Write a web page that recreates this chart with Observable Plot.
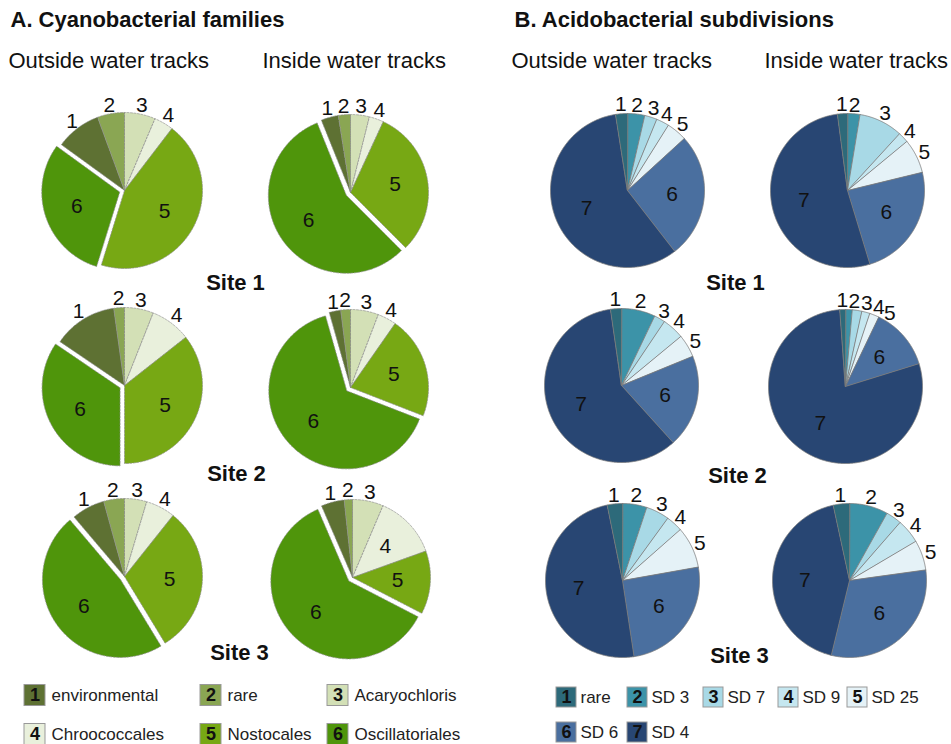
<!DOCTYPE html>
<html><head><meta charset="utf-8">
<script src="https://cdn.jsdelivr.net/npm/d3@7"></script>
<script src="https://cdn.jsdelivr.net/npm/@observablehq/plot@0.6"></script>
<style>body{margin:0;background:#fff;} svg{display:block}</style>
</head><body><div id="chart"></div>
<script>
// ---------- DATA ----------
const cyanoCodes = [1, 2, 3, 4, 5, 6];
const cyanoNames = ["environmental", "rare", "Acaryochloris", "Chroococcales", "Nostocales", "Oscillatoriales"];
const cyanoColors = ["#5e7133", "#8aa653", "#d3e0b6", "#e9f0dc", "#77a814", "#4f950b"];
const cyanoOrder = [3, 4, 5, 6, 1, 2]; // clockwise from 12 o'clock
// percentages, indexed by code 1..6
const cyanoOutsideSite1 = [9.4, 5.6, 6.4, 4.0, 44.4, 30.2];
const cyanoInsideSite1  = [3.6, 2.5, 3.9, 3.0, 30.6, 56.4];
const cyanoOutsideSite2 = [13.3, 2.2, 6.0, 8.4, 35.6, 34.5];
const cyanoInsideSite2  = [2.4, 2.0, 5.8, 3.9, 21.2, 64.7];
const cyanoOutsideSite3 = [6.9, 4.3, 4.6, 6.1, 30.6, 47.5];
const cyanoInsideSite3  = [4.8, 1.7, 6.4, 13.1, 13.1, 60.9];

const acidoCodes = [1, 2, 3, 4, 5, 6, 7];
const acidoNames = ["rare", "SD 3", "SD 7", "SD 9", "SD 25", "SD 6", "SD 4"];
const acidoColors = ["#2d6a7a", "#3c93a8", "#a8d9e6", "#c5e7f0", "#e5f2f7", "#4a6f9f", "#284673"];
const acidoOrder = [2, 3, 4, 5, 6, 7, 1]; // clockwise from 12 o'clock
const acidoOutsideSite1 = [2.5, 3.6, 2.6, 2.7, 4.3, 26.3, 58.0];
const acidoInsideSite1  = [2.1, 2.6, 9.2, 2.2, 7.2, 24.1, 52.6];
const acidoOutsideSite2 = [2.3, 7.1, 2.3, 4.6, 4.8, 19.5, 59.4];
const acidoInsideSite2  = [1.2, 1.4, 2.0, 1.7, 2.0, 13.1, 78.6];
const acidoOutsideSite3 = [3.2, 5.1, 4.9, 3.5, 8.7, 25.4, 49.2];
const acidoInsideSite3  = [3.4, 8.1, 3.3, 5.1, 6.3, 31.0, 42.8];

const sites = ["Site 1", "Site 2", "Site 3"];
const columnTitles = ["Outside water tracks", "Inside water tracks"];
const panelTitles = ["A. Cyanobacterial families", "B. Acidobacterial subdivisions"];

// ---------- LAYOUT ----------
const W = 951, H = 744;
const FONT = "Liberation Sans, Arial, Helvetica, sans-serif";
const pies = [
  {panel: "cyano", values: cyanoOutsideSite1, cx: 124, cy: 190, inside: [5, 6]},
  {panel: "cyano", values: cyanoInsideSite1,  cx: 350, cy: 192, inside: [5, 6]},
  {panel: "cyano", values: cyanoOutsideSite2, cx: 124, cy: 385, inside: [5, 6]},
  {panel: "cyano", values: cyanoInsideSite2,  cx: 350, cy: 387, inside: [5, 6]},
  {panel: "cyano", values: cyanoOutsideSite3, cx: 124, cy: 576, inside: [5, 6]},
  {panel: "cyano", values: cyanoInsideSite3,  cx: 352, cy: 577, inside: [4, 5, 6]},
  {panel: "acido", values: acidoOutsideSite1, cx: 627, cy: 190, inside: [6, 7]},
  {panel: "acido", values: acidoInsideSite1,  cx: 847, cy: 190, inside: [6, 7]},
  {panel: "acido", values: acidoOutsideSite2, cx: 621, cy: 385, inside: [6, 7]},
  {panel: "acido", values: acidoInsideSite2,  cx: 845, cy: 386, inside: [6, 7]},
  {panel: "acido", values: acidoOutsideSite3, cx: 622, cy: 580, inside: [6, 7]},
  {panel: "acido", values: acidoInsideSite3,  cx: 849, cy: 580, inside: [6, 7]}
];

const slicePts = [], labels = [];
pies.forEach((p, pi) => {
  const cy = p.panel === "cyano";
  const order = cy ? cyanoOrder : acidoOrder;
  const colors = cy ? cyanoColors : acidoColors;
  const r = cy ? 78 : 77;
  const explode = cy ? 6 : null;
  const arcs = d3.pie().sort(null).value(c => p.values[c - 1])(order);
  const outside = [];
  arcs.forEach(a => {
    const code = a.data;
    const mid = (a.startAngle + a.endAngle) / 2;
    const off = code === explode ? 5 : 0;
    const ox = p.cx + off * Math.sin(mid), oy = p.cy - off * Math.cos(mid);
    const id = pi + "-" + code;
    const color = colors[code - 1];
    slicePts.push({id, panel: p.panel, color, x: ox, y: oy});
    const n = Math.max(2, Math.ceil((a.endAngle - a.startAngle) / 0.01));
    for (let i = 0; i <= n; i++) {
      const t = a.startAngle + (a.endAngle - a.startAngle) * i / n;
      slicePts.push({id, panel: p.panel, color, x: ox + r * Math.sin(t), y: oy - r * Math.cos(t)});
    }
    if (p.inside.includes(code)) {
      const lr = 0.58 * r;
      labels.push({text: String(code), x: ox + lr * Math.sin(mid), y: oy - lr * Math.cos(mid)});
    } else {
      let ang = mid > Math.PI ? mid - 2 * Math.PI : mid;
      outside.push({code, ang, ox, oy, lr: r + 9});
    }
  });
  // keep neighbouring outside labels from overlapping
  outside.sort((a, b) => a.ang - b.ang);
  const minD = 12;
  outside.forEach((L, i) => {
    L.x = L.ox + L.lr * Math.sin(L.ang);
    L.y = L.oy - L.lr * Math.cos(L.ang);
    if (i > 0) {
      const P = outside[i - 1];
      while (Math.hypot(L.x - P.x, L.y - P.y) < minD) {
        L.ang += 0.01;
        L.x = L.ox + L.lr * Math.sin(L.ang);
        L.y = L.oy - L.lr * Math.cos(L.ang);
      }
    }
    labels.push({text: String(L.code), x: L.x, y: L.y});
  });
});

// header texts
const headers = [
  {text: panelTitles[0], x: 10, y: 19, bold: true},
  {text: panelTitles[1], x: 514, y: 19, bold: true},
  {text: columnTitles[0], x: 8, y: 60},
  {text: columnTitles[1], x: 262, y: 60},
  {text: columnTitles[0], x: 511, y: 60},
  {text: columnTitles[1], x: 764, y: 60}
];
const siteLabels = [
  {text: sites[0], x: 235, y: 282}, {text: sites[1], x: 236, y: 473}, {text: sites[2], x: 239, y: 652},
  {text: sites[0], x: 735, y: 282}, {text: sites[1], x: 737, y: 475}, {text: sites[2], x: 739, y: 655}
];

// legends
const legendBoxes = [], legendTexts = [];
const cyanoCols = [24, 200, 327], cyanoRows = [695, 734];
cyanoCodes.forEach((c, i) => {
  const bx = cyanoCols[i % 3], by = cyanoRows[Math.floor(i / 3)];
  legendBoxes.push({x1: bx, x2: bx + 21, y1: by - 10.5, y2: by + 10.5, fill: cyanoColors[i], code: String(c), cx: bx + 10.5, cy: by});
  legendTexts.push({text: cyanoNames[i], x: bx + 27, y: by});
});
const acidoCols = [[556, 627, 703, 778, 847], [556, 627]], acidoRows = [697, 732];
acidoCodes.forEach((c, i) => {
  const row = i < 5 ? 0 : 1, col = i < 5 ? i : i - 5;
  const bx = acidoCols[row][col], by = acidoRows[row];
  legendBoxes.push({x1: bx, x2: bx + 20, y1: by - 10, y2: by + 10, fill: acidoColors[i], code: String(c), cx: bx + 10, cy: by});
  legendTexts.push({text: acidoNames[i], x: bx + 24, y: by});
});

const chart = Plot.plot({
  width: W, height: H,
  margin: 0,
  x: {domain: [0, W], range: [0, W], axis: null},
  y: {domain: [0, H], range: [0, H], axis: null},
  color: {type: "identity"},
  style: {fontFamily: FONT, background: "#fff"},
  marks: [
    Plot.line(slicePts.filter(d => d.panel === "cyano"), {
      x: "x", y: "y", z: "id", fill: "color", stroke: "#8c8c8c",
      strokeWidth: 0.7, strokeDasharray: "2,1.5", curve: "linear-closed"
    }),
    Plot.line(slicePts.filter(d => d.panel === "acido"), {
      x: "x", y: "y", z: "id", fill: "color", stroke: "#7a7a7a",
      strokeWidth: 0.8, curve: "linear-closed"
    }),
    Plot.text(labels, {x: "x", y: "y", text: "text", fontSize: 21, fill: "#111"}),
    Plot.text(headers.filter(d => d.bold), {x: "x", y: "y", text: "text", textAnchor: "start", fontSize: 22, fontWeight: "bold", fill: "#111"}),
    Plot.text(headers.filter(d => !d.bold), {x: "x", y: "y", text: "text", textAnchor: "start", fontSize: 22, fill: "#111"}),
    Plot.text(siteLabels, {x: "x", y: "y", text: "text", fontSize: 22, fontWeight: "bold", fill: "#111"}),
    Plot.rect(legendBoxes, {x1: "x1", x2: "x2", y1: "y1", y2: "y2", fill: "fill", stroke: "#999", strokeWidth: 1}),
    Plot.text(legendBoxes, {x: "cx", y: "cy", text: "code", fontSize: 18, fontWeight: "bold", fill: "#111"}),
    Plot.text(legendTexts, {x: "x", y: "y", text: "text", textAnchor: "start", fontSize: 17, fill: "#222"})
  ]
});
document.getElementById("chart").appendChild(chart);
</script>
</body></html>
